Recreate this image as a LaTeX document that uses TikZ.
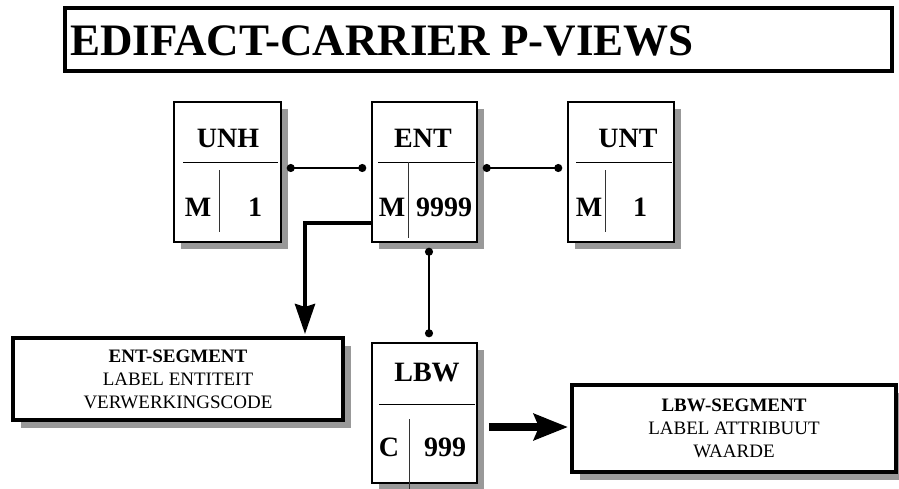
\documentclass[tikz,border=0pt]{standalone}
\usepackage{fontspec}
\setmainfont{Liberation Serif}
\usetikzlibrary{arrows.meta,shadows}
\begin{document}
\begin{tikzpicture}[x=1pt,y=-1pt,
  recbox/.style={draw, line width=1.5pt, fill=white, minimum width=106pt, minimum height=140pt, inner sep=0pt,
    general shadow={fill=black!40, shadow xshift=7pt, shadow yshift=-7pt}},
  segbox/.style={draw, line width=4pt, fill=white, inner sep=0pt, align=center,
    font=\fontsize{19}{23}\selectfont,
    general shadow={fill=black!40, shadow xshift=8pt, shadow yshift=-8pt}},
  lbl/.style={font=\fontsize{28}{30}\selectfont\bfseries, inner sep=0pt},
  hdiv/.style={line width=1pt},
  vdiv/.style={line width=0.9pt, black!80},
  dotlink/.style={line width=2pt, {Circle[length=8pt]}-{Circle[length=8pt]}, shorten <=5pt, shorten >=5pt},
  bigarrowa/.style={line width=4pt, -{Stealth[length=30pt, width=20pt, inset=3pt]}, shorten >=2pt},
  bigarrowb/.style={line width=8pt, -{Stealth[length=34pt, width=26pt, inset=5pt]}, shorten >=2pt}
]
\useasboundingbox (0,0) rectangle (899,488);

% title
\node[draw, line width=4.5pt, minimum width=827pt, minimum height=63pt, inner sep=0pt, fill=white,
  general shadow={fill=black!40, shadow xshift=1.5pt, shadow yshift=-1.5pt}] (titlebox) at (478.5,39.5) {};
\node[anchor=base west, font=\fontsize{45}{45}\selectfont\bfseries, inner sep=0pt] (title) at (70,55) {EDIFACT-CARRIER P-VIEWS};

% record boxes
\node[recbox, minimum width=107pt] (unh) at (227.5,172) {};
\node[recbox, minimum width=105pt] (ent) at (424.5,172) {};
\node[recbox, minimum width=106pt] (unt) at (621,172) {};
\node[recbox, minimum width=105pt] (lbw) at (424.5,413) {};

% UNH contents
\draw[hdiv] (183,162) -- (278,162);
\draw[vdiv] (219,170) -- (219,232);
\node[lbl] (unhname) at (228,138) {UNH};
\node[lbl] (unhst) at (198,207) {M};
\node[lbl] (unhrep) at (255,207) {1};

% ENT contents
\draw[hdiv] (378,162) -- (475,162);
\draw[vdiv] (408,162) -- (408,238);
\node[lbl] (entname) at (423,138) {ENT};
\node[lbl] (entst) at (392,207) {M};
\node[lbl] (entrep) at (444,207) {9999};

% UNT contents
\draw[hdiv] (576,162) -- (672,162);
\draw[vdiv] (605,170) -- (605,232);
\node[lbl] (untname) at (628,138) {UNT};
\node[lbl] (untst) at (589,207) {M};
\node[lbl] (untrep) at (640,207) {1};

% LBW contents
\draw[hdiv] (379,404) -- (475,404);
\draw[vdiv] (409,419) -- (409,490);
\node[lbl] (lbwname) at (427,373) {LBW};
\node[lbl] (lbwst) at (389,447) {C};
\node[lbl] (lbwrep) at (445,447) {999};

% segment boxes
\node[segbox, minimum width=330pt, minimum height=82pt] (entseg) at (178,379)
  {\textbf{ENT-SEGMENT}\\LABEL ENTITEIT\\VERWERKINGSCODE};
\node[segbox, minimum width=324pt, minimum height=87pt] (lbwseg) at (734,428.5)
  {\textbf{LBW-SEGMENT}\\LABEL ATTRIBUUT\\WAARDE};

% connectors
\draw[dotlink] ([yshift=4pt]unh.east) -- ([yshift=4pt]ent.west);
\draw[dotlink] ([yshift=4pt]ent.east) -- ([yshift=4pt]unt.west);
\draw[dotlink] ([xshift=4.5pt]ent.south) -- ([xshift=4.5pt]lbw.north);
\draw[bigarrowa] ([yshift=-51pt]ent.west) -| ([xshift=294pt]entseg.north west);
\draw[bigarrowb] ([shift={(11pt,-14pt)}]lbw.east) -- ([yshift=1.5pt]lbwseg.west);
\end{tikzpicture}
\end{document}
